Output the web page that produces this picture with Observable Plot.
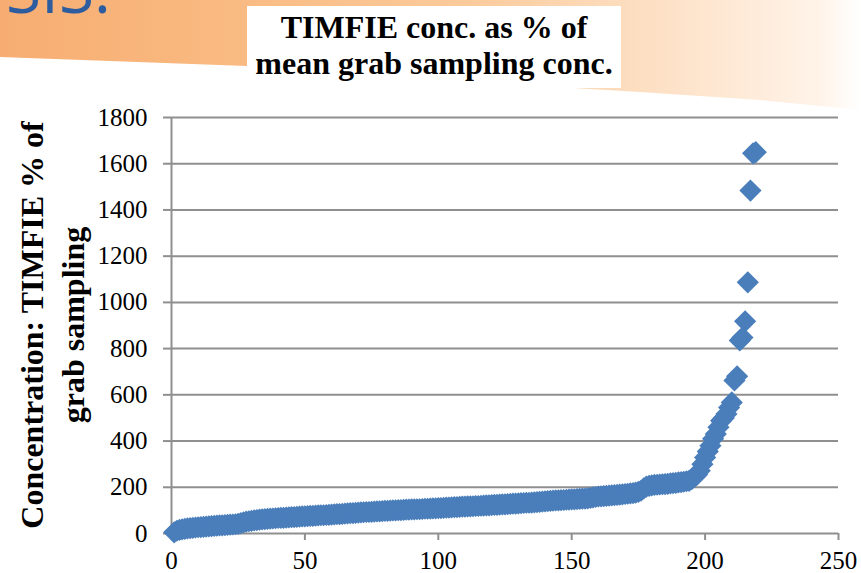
<!DOCTYPE html>
<html>
<head>
<meta charset="utf-8">
<script src="https://cdn.jsdelivr.net/npm/d3@7"></script>
<script src="https://cdn.jsdelivr.net/npm/@observablehq/plot@0.6"></script>
<style>
  html, body { margin: 0; padding: 0; background: #ffffff; }
  #wrap { position: relative; width: 861px; height: 573px; overflow: hidden; background: #ffffff; }
  #band {
    position: absolute; left: 0; top: 0; width: 861px; height: 120px;
    background: linear-gradient(90deg, #f7ad72 0%, #f9b980 25%, #fbcb9c 55%, #fde2c8 78%, #fff3e8 95%, #ffffff 100%);
    clip-path: polygon(0 0, 861px 0, 861px 110px, 760px 100px, 640px 92px, 573px 88px, 420px 76px, 247px 66px, 0 57px);
  }
  #sis {
    position: absolute; left: 6px; top: -43px;
    font-family: "Open Sans", sans-serif; font-size: 64px; line-height: 64px;
    color: #2d5c9f; white-space: nowrap;
  }
  #chart { position: absolute; left: 0; top: 0; }
  #chart svg, #chart svg text { font-family: "Liberation Serif", "Times New Roman", serif !important; }
  #title {
    position: absolute; left: 247px; top: 6px; width: 374px; height: 82px;
    background: #ffffff; text-align: center; box-sizing: border-box; padding-top: 3px;
    font-family: "Liberation Serif", "Times New Roman", serif; font-weight: bold;
    font-size: 32px; line-height: 36px; color: #000;
  }
  #ytitle {
    position: absolute; width: 440px; height: 82px; left: -167px; top: 284px;
    transform: rotate(-90deg); transform-origin: 50% 50%;
    text-align: center; font-family: "Liberation Serif", "Times New Roman", serif;
    font-weight: bold; font-size: 32px; line-height: 41px; color: #000; white-space: nowrap;
  }
</style>
</head>
<body>
<div id="wrap">
  <div id="band"></div>
  <div id="sis">SIS.</div>
  <div id="chart"></div>
  <div id="title">TIMFIE conc. as % of<br>mean grab sampling conc.</div>
  <div id="ytitle">Concentration: TIMFIE % of<br>grab sampling</div>
</div>
<script>
// TIMFIE concentration as % of grab sampling, sorted ascending (rank 1..219)
const values = [
  5, 12, 16, 18, 20, 22, 23, 24, 26, 27,
  28, 29, 30, 31, 32, 33, 34, 35, 35, 36,
  37, 38, 39, 40, 42, 45, 48, 51, 53, 55,
  57, 58, 60, 61, 62, 63, 64, 65, 66, 67,
  68, 68, 69, 70, 71, 71, 72, 73, 74, 74,
  75, 76, 76, 77, 78, 79, 79, 80, 81, 82,
  83, 84, 84, 85, 86, 87, 88, 88, 89, 90,
  91, 92, 93, 93, 94, 95, 96, 96, 97, 98,
  98, 99, 100, 100, 101, 101, 102, 103, 103, 104,
  104, 105, 105, 106, 107, 107, 108, 109, 109, 110,
  110, 111, 112, 112, 113, 114, 114, 115, 116, 116,
  117, 117, 118, 119, 119, 120, 121, 122, 122, 123,
  124, 124, 125, 126, 126, 127, 128, 129, 129, 130,
  131, 132, 133, 133, 134, 135, 136, 137, 138, 139,
  140, 141, 142, 143, 143, 144, 145, 146, 147, 148,
  148, 149, 150, 151, 151, 152, 154, 156, 158, 160,
  161, 162, 163, 164, 165, 166, 167, 168, 169, 171,
  172, 174, 175, 177, 180, 185, 195, 203, 206, 208,
  210, 211, 212, 213, 214, 215, 217, 218, 219, 221,
  222, 224, 226, 228, 235, 245, 255, 272, 300, 329,
  355, 380, 410, 430, 460, 488, 500, 517, 545, 567,
  662, 680, 835, 848, 918, 1087, 1484, 1645, 1650
];
const xTicks = [0, 50, 100, 150, 200, 250];
const yTicks = [0, 200, 400, 600, 800, 1000, 1200, 1400, 1600, 1800];

const gridColor = "#8f8f8f";
const tickFont = "'Liberation Serif', 'Times New Roman', serif";

const chart = Plot.plot({
  width: 861,
  height: 573,
  marginLeft: 171,
  marginRight: 23,
  marginTop: 117,
  marginBottom: 40,
  style: { background: "transparent", fontFamily: tickFont, color: "#000" },
  x: { domain: [0, 250] },
  y: { domain: [0, 1800] },
  marks: [
    Plot.gridY(yTicks, { stroke: gridColor, strokeOpacity: 1, strokeWidth: 2 }),
    Plot.ruleX([0], { stroke: gridColor, strokeWidth: 2 }),
    Plot.axisY(yTicks, {
      tickSize: 8, tickPadding: 16, stroke: gridColor, strokeWidth: 2, fill: "#000",
      fontSize: 25, label: null, tickFormat: d => String(d)
    }),
    Plot.axisX(xTicks, {
      tickSize: 7, tickPadding: 11, stroke: gridColor, strokeWidth: 2, fill: "#000",
      fontSize: 25, label: null, tickFormat: d => String(d)
    }),
    Plot.dot(values, {
      x: (d, i) => i + 1,
      y: d => d,
      symbol: "diamond2",
      r: 10,
      fill: "#4a7ebb",
      stroke: "none"
    })
  ]
});
document.getElementById("chart").appendChild(chart);
</script>
</body>
</html>
